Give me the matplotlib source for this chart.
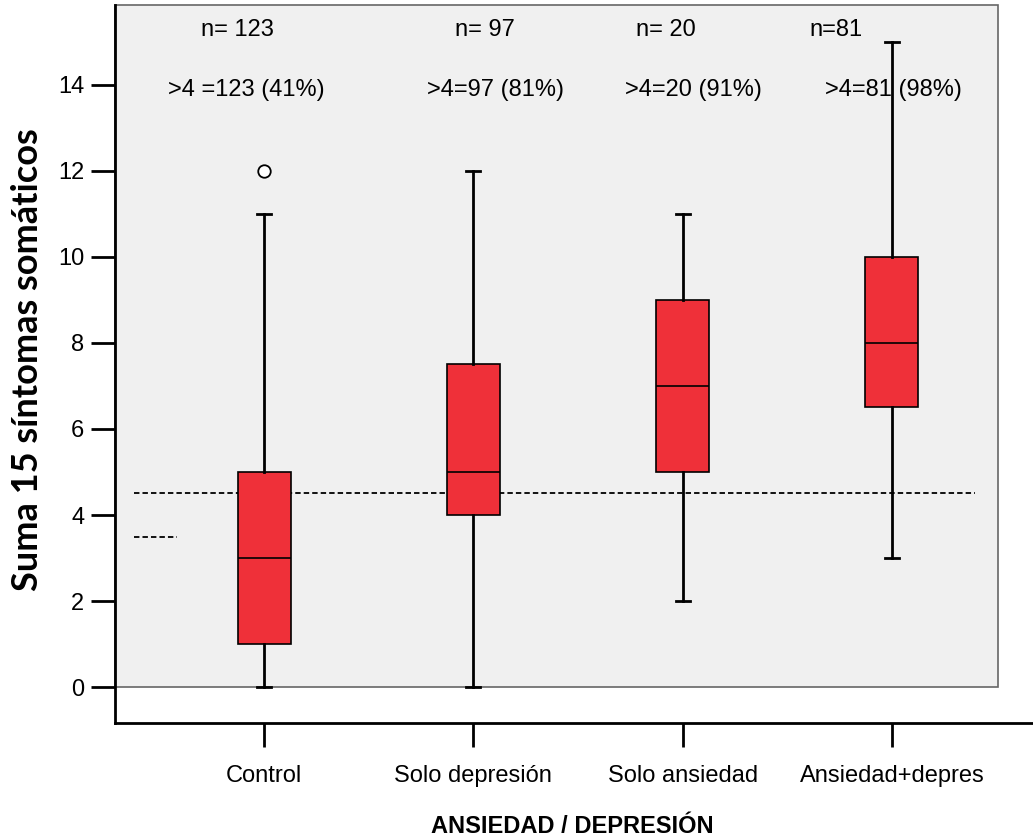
import matplotlib.pyplot as plt
from matplotlib.patches import Rectangle

groups = ["Control", "Solo depresión", "Solo ansiedad", "Ansiedad+depres"]
q1 = [1, 4, 5, 6.5]
med = [3, 5, 7, 8]
q3 = [5, 7.5, 9, 10]
whislo = [0, 0, 2, 3]
whishi = [11, 12, 11, 15]
fliers = [[12], [], [], []]
n_labels = ["n= 123", "n= 97", "n= 20", "n=81"]
pct_labels = [">4 =123 (41%)", ">4=97 (81%)", ">4=20 (91%)", ">4=81 (98%)"]
cutoff = 4.5
cutoff_short = 3.5

# text placement (data x)
n_x = [0.871, 2.056, 2.921, 3.733]
pct_x = [0.914, 2.104, 3.054, 4.005]

plt.rcParams['font.family'] = ['Liberation Sans', 'DejaVu Sans']

fig = plt.figure(figsize=(10.33, 8.38), dpi=100)
ax = fig.add_axes([115/1033, 115/838, 918/1033, 718/838])
ax.set_xlim(0.288, 4.674)
ax.set_ylim(-0.837, 15.86)
ax.set_facecolor("white")

# gray panel
ax.add_patch(Rectangle((0.288, 0), 4.506 - 0.288, 15.86, facecolor="#f0f0f0",
                       edgecolor="#666666", linewidth=1.2, zorder=0, clip_on=False))

stats = []
for i in range(len(groups)):
    stats.append({"q1": q1[i], "med": med[i], "q3": q3[i], "whislo": whislo[i],
                  "whishi": whishi[i], "fliers": fliers[i], "label": groups[i]})

pos = [1, 2, 3, 4]
bp = ax.bxp(stats, positions=pos, widths=0.253, patch_artist=True, showfliers=True,
            boxprops=dict(facecolor="#ef3039", edgecolor="black", linewidth=1.2),
            medianprops=dict(color="black", linewidth=1.2),
            whiskerprops=dict(color="black", linewidth=2),
            capprops=dict(color="black", linewidth=2),
            capwidths=0.068,
            flierprops=dict(marker="o", markerfacecolor="white", markeredgecolor="black",
                            markersize=9, markeredgewidth=1.3))
for k in ["boxes", "medians", "whiskers", "caps", "fliers"]:
    for a in bp[k]:
        a.set_zorder(3)

dash = (0, (3, 1.7))
ax.plot([0.379, 4.397], [cutoff, cutoff], color="black", lw=1.3, linestyle=dash, zorder=2)
ax.plot([0.379, 0.584], [cutoff_short, cutoff_short], color="black", lw=1.3,
        linestyle=dash, zorder=2)

for i in range(len(groups)):
    ax.text(n_x[i], 15.28, n_labels[i], ha="center", va="center", fontsize=17)
    ax.text(pct_x[i], 13.88, pct_labels[i], ha="center", va="center", fontsize=17)

ax.set_yticks(range(0, 15, 2))
ax.set_xticks(pos)
ax.set_xticklabels(groups)
ax.tick_params(axis="both", labelsize=17, length=17, width=2, color="black")
ax.tick_params(axis="x", pad=13)
ax.tick_params(axis="y", pad=5)

for s in ["top", "right"]:
    ax.spines[s].set_visible(False)
for s in ["left", "bottom"]:
    ax.spines[s].set_linewidth(2)

ax.set_ylabel("Suma 15 síntomas somáticos", fontsize=26, fontweight="bold",
              family=["Lato", "DejaVu Sans"], va="center")
ax.yaxis.set_label_coords(-(115 - 28) / 918, (723 - 360) / 718)
ax.set_xlabel("ANSIEDAD / DEPRESIÓN", fontsize=17, fontweight="bold", va="center")
ax.xaxis.set_label_coords((572 - 115) / 918, -(826 - 723) / 718)

fig.savefig("out.png", dpi=100)
